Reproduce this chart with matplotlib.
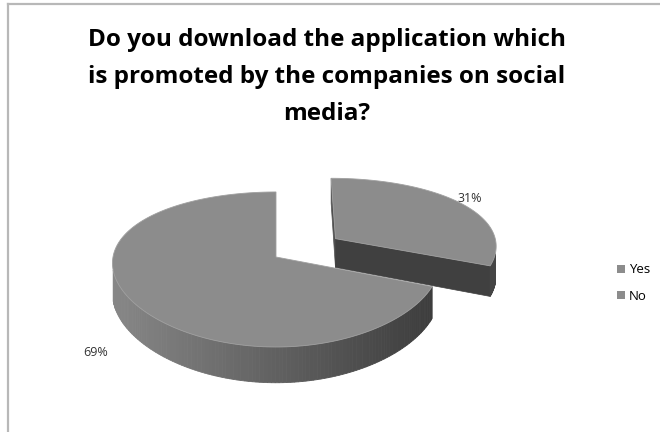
import numpy as np
import matplotlib
matplotlib.use('Agg')
from matplotlib import pyplot as plt
from matplotlib.patches import Polygon, Patch

labels = ['Yes', 'No']
values = [31, 69]
explode = [0.45, 0.0]
title = 'Do you download the application which\nis promoted by the companies on social\nmedia?'

# projection of the pie disc onto the page (pixel units, y down);
# the far side is squeezed strongly in y and slightly in x
CX, CY = 276, 257
RX, RY = 163, 75.5
P = 0.161
PX = 0.08
H = 30
CAM = np.array([0.0, 1.0 / P])

TOP = '#8c8c8c'
CUT = '#404040'
FONT = 'Open Sans'


def proj(X, D, z=0.0):
    s = 1.0 / (1.0 - P * D)
    sx = 1.0 / (1.0 - PX * D)
    return CX + RX * X * sx, CY + RY * D * s + H * z * s


def wall_colour(x):
    t = np.clip((x - 113) / (430 - 113), 0, 1)
    g = 0.53 - 0.29 * t
    return (g, g, g)


fig = plt.figure(figsize=(6.6, 4.32), dpi=100)
ax = fig.add_axes([0, 0, 1, 1])
ax.set_xlim(0, 660)
ax.set_ylim(432, 0)
ax.axis('off')

# frame lines of the chart area
ax.plot([8, 8], [432, 4], color='#b8b8b8', lw=1.6)
ax.plot([8, 660], [4, 4], color='#b8b8b8', lw=1.6)

total = float(sum(values))
starts = np.cumsum([0] + values[:-1]) / total * 360
ends = np.cumsum(values) / total * 360

for i in range(len(values)):
    a0, a1 = np.radians(starts[i]), np.radians(ends[i])
    mid = (a0 + a1) / 2
    ox, od = explode[i] * np.sin(mid), -explode[i] * np.cos(mid)
    th = np.linspace(a0, a1, 200)
    rim_x = ox + np.sin(th)
    rim_d = od - np.cos(th)

    # radial cut faces
    for ang, sign in ((a0, -1), (a1, 1)):
        n = sign * np.array([np.cos(ang), np.sin(ang)])
        p = np.array([ox, od])
        if np.dot(CAM - p, n) <= 0:
            continue
        ex, ed = ox + np.sin(ang), od - np.cos(ang)
        pts = [proj(ox, od), proj(ex, ed), proj(ex, ed, 1), proj(ox, od, 1)]
        col = CUT if sign > 0 else '#505050'
        ax.add_patch(Polygon(pts, closed=True, fc=col, ec=col, lw=0.5))

    # outer wall, shaded from left to right
    for k in range(len(th) - 1):
        tm = (th[k] + th[k + 1]) / 2
        n = np.array([np.sin(tm), -np.cos(tm)])
        p = np.array([ox, od]) + n
        if np.dot(CAM - p, n) <= 0:
            continue
        pts = [proj(rim_x[k], rim_d[k]), proj(rim_x[k + 1], rim_d[k + 1]),
               proj(rim_x[k + 1], rim_d[k + 1], 1), proj(rim_x[k], rim_d[k], 1)]
        col = wall_colour(pts[0][0]) if i == 1 else '#454545'
        ax.add_patch(Polygon(pts, closed=True, fc=col, ec=col, lw=0.6))

    # top face
    top = [proj(ox, od)] + [proj(x, d) for x, d in zip(rim_x, rim_d)]
    ax.add_patch(Polygon(top, closed=True, fc=TOP, ec='#a0a0a0', lw=0.6))

# percentage labels
ax.text(470, 198, '%d%%' % values[0], fontsize=9, color='#333333',
        family=FONT, ha='center', va='center')
ax.text(96, 352, '%d%%' % values[1], fontsize=9, color='#333333',
        family=FONT, ha='center', va='center')

ax.text(327, 77, title, fontsize=17.5, fontweight='bold', family=FONT,
        ha='center', va='center', linespacing=1.72, color='black')

handles = [Patch(fc=TOP, ec='none') for _ in labels]
ax.legend(handles, labels, loc='center left', bbox_to_anchor=(0.925, 0.345),
          frameon=False, prop={'family': FONT, 'size': 9.5},
          handlelength=0.6, handleheight=0.6, handletextpad=0.3,
          labelspacing=1.0, borderpad=0)

fig.savefig('out.png', dpi=100, facecolor='white')
